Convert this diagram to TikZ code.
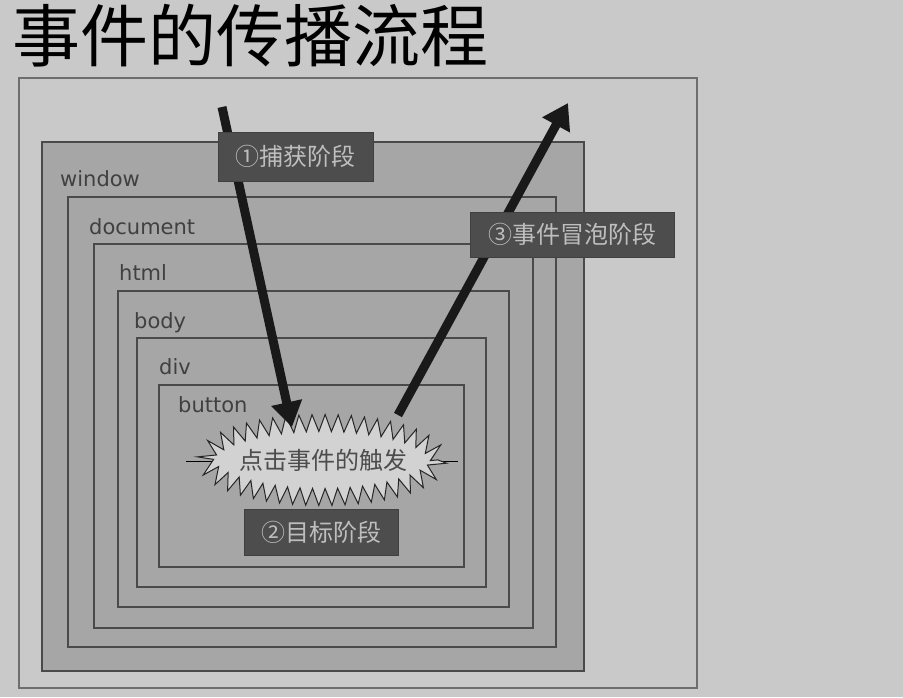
\documentclass[tikz,border=0pt]{standalone}
\usepackage{fontspec}
\setsansfont{DejaVu Sans}
\newfontfamily\cjk{Noto Sans CJK SC}
\usetikzlibrary{arrows.meta,calc,decorations.pathmorphing}
\definecolor{bggray}{HTML}{C9C9C9}
\definecolor{layergray}{HTML}{A6A6A6}
\definecolor{edgegray}{HTML}{4A4A4A}
\definecolor{tagdark}{HTML}{4D4D4D}
\definecolor{tagtext}{HTML}{BEBEBE}
\definecolor{burstgray}{HTML}{D2D2D2}

\begin{document}
\begin{tikzpicture}[x=1pt,y=-1pt,
 frame/.style={draw=edgegray!80,line width=1.5pt,fill=bggray},
 layer/.style={draw=edgegray,line width=1.6pt,fill=layergray},
 tag/.style={anchor=base west,inner sep=0,text=black!75,font=\sffamily\fontsize{21}{21}\selectfont},
 phase/.style={draw=black!75,line width=1pt,fill=tagdark,text=tagtext,inner sep=0,
   font=\cjk\fontsize{24}{24}\selectfont},
 spiky/.style={draw=black!85,line width=1pt,fill=burstgray,line join=miter,
   decorate,decoration={zigzag,segment length=12.83pt,amplitude=8.5pt}},
 flow/.style={-{Triangle[length=25pt,width=30pt]},line width=9pt,draw=black!90}]
\useasboundingbox (0,0) rectangle (903,697);
\fill[bggray] (0,0) rectangle (903,697);
\node[anchor=base west,inner sep=0,font=\cjk\fontsize{68}{68}\selectfont] (title) at (12,61) {事件的传播流程};
\draw[frame] (19,78) rectangle (697,688);
% nested layers: name / box corners / label base point
\foreach \nm/\xl/\yt/\xr/\yb/\lx/\ly in {window/42/142/584/671/60/186,
   document/68/197/556/647/89/234, html/94/244/533/628/119/280,
   body/118/291/509/607/134/328, div/137/338/486/587/159/374,
   button/159/385/464/567/178/412}{
  \draw[layer] (\xl,\yt) rectangle (\xr,\yb);
  \node[tag] (\nm-tag) at (\lx,\ly) {\nm};
}
\coordinate (lineL) at (186,461);
\coordinate (lineR) at (458,461);
\draw[line width=1pt] (lineL) -- (lineR);
% zigzag burst round the click text
\draw[spiky] (322,460) ellipse [x radius=116,y radius=37];
\node[text=black!70,font=\cjk\fontsize{24}{24}\selectfont] (burst) at (323,460) {点击事件的触发};
\coordinate (capstart) at (222,107);
\coordinate (bubend) at (568,103);
\draw[flow] (capstart) -- ($(burst.center)+(-31,-33)$);
\draw[flow] ($(burst.center)+(75,-45)$) -- (bubend);
\node[phase,minimum width=155pt,minimum height=49pt] (capture) at (295.5,156.5) {①捕获阶段};
\node[phase,minimum width=204pt,minimum height=45pt] (bubble) at (572,234.5) {③事件冒泡阶段};
\node[phase,minimum width=154pt,minimum height=46pt] (target) at (321,532) {②目标阶段};
\end{tikzpicture}
\end{document}
